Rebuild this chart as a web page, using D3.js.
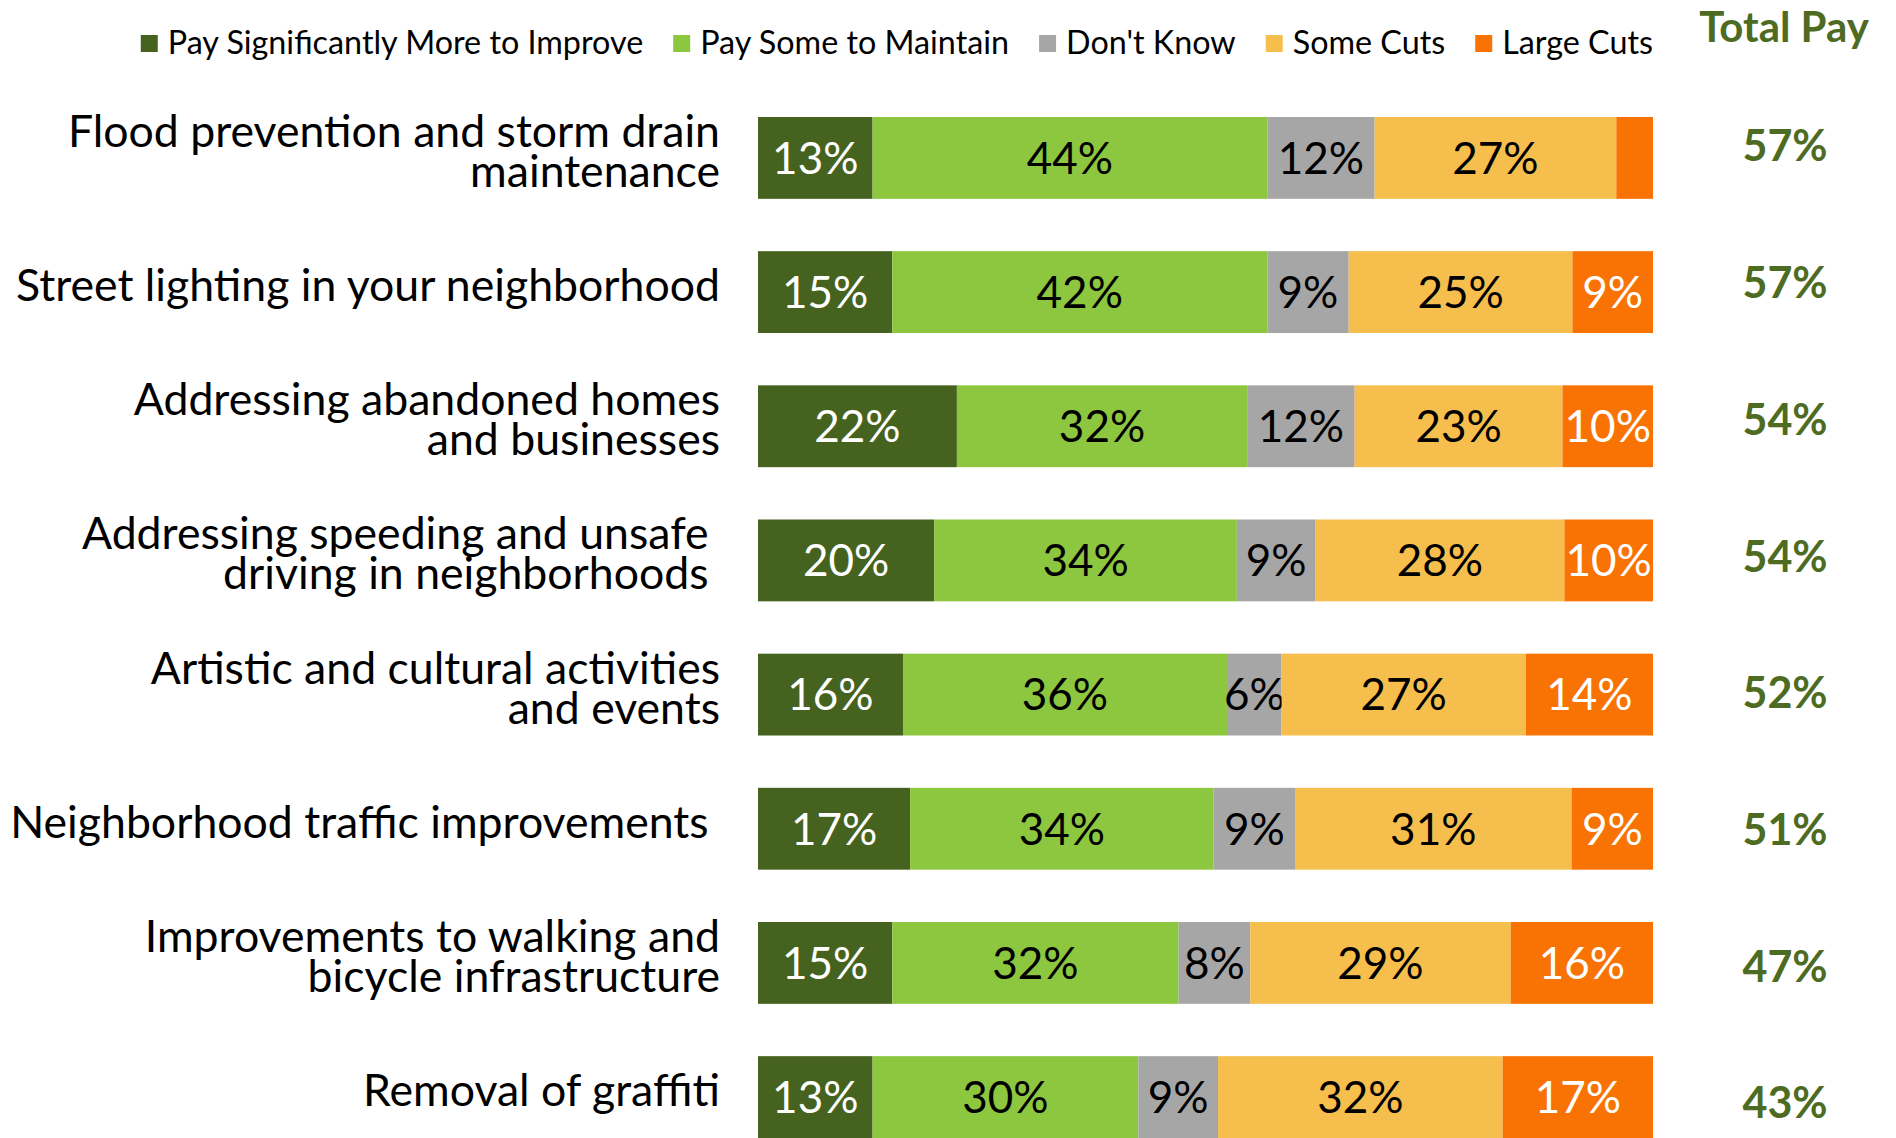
<!DOCTYPE html>
<html lang="en">
<head>
    <meta charset="UTF-8">
    <title>Willingness to Pay</title>
    <style>
        html, body {
            margin: 0;
            padding: 0;
            background-color: #ffffff;
            font-family: 'Lato', 'Open Sans', sans-serif;
        }
        svg text { white-space: pre; }
    </style>
</head>
<body>
    <div id="chart"></div>
    <script src="https://d3js.org/d3.v7.min.js"></script>
    <script>
        const width = 1896;
        const height = 1138;

        // DATA
        const categories = [
            "Flood prevention and storm drain\nmaintenance",
            "Street lighting in your neighborhood",
            "Addressing abandoned homes\nand businesses",
            "Addressing speeding and unsafe \ndriving in neighborhoods ",
            "Artistic and cultural activities\nand events",
            "Neighborhood traffic improvements ",
            "Improvements to walking and\nbicycle infrastructure",
            "Removal of graffiti"
        ];
        const seriesNames = ["Pay Significantly More to Improve", "Pay Some to Maintain", "Don't Know", "Some Cuts", "Large Cuts"];
        const payMore     = [12.8, 15.0, 22.2, 19.7, 16.2, 17.0, 15.0, 12.8];
        const payMaintain = [44.1, 41.9, 32.4, 33.8, 36.2, 33.9, 32.0, 29.7];
        const dontKnow    = [12.0,  9.1, 12.0,  8.8,  6.1,  9.1,  8.0,  8.9];
        const someCuts    = [27.0, 25.0, 23.2, 27.8, 27.3, 30.9, 29.1, 31.8];
        const largeCuts   = [ 4.1,  9.0, 10.1,  9.9, 14.2,  9.1, 15.9, 16.8];
        const totalPay    = [57, 57, 54, 54, 52, 51, 47, 43];

        const colours = ["#46621F", "#8DC63F", "#A6A6A6", "#F6BE4D", "#F97304"];
        const textColours = ["#ffffff", "#000000", "#000000", "#000000", "#ffffff"];
        const titleColour = "#4E6B22";

        const series = [payMore, payMaintain, dontKnow, someCuts, largeCuts];
        const rows = categories.map((c, i) => {
            const row = {category: c};
            seriesNames.forEach((s, j) => row[s] = series[j][i]);
            return row;
        });

        const stacked = d3.stack()
            .keys(seriesNames)
            .offset(d3.stackOffsetExpand)(rows);

        const x = d3.scaleLinear().domain([0, 1]).range([758, 1653]);
        const y = d3.scaleBand()
            .domain(categories)
            .range([117, 1138])
            .paddingInner(0.39)
            .paddingOuter(0);
        const yTotal = d3.scalePoint().domain(categories).range([146, 1103]);

        const svg = d3.select("#chart")
            .append("svg")
            .attr("width", width)
            .attr("height", height);

        // BARS
        const layer = svg.selectAll("g.layer")
            .data(stacked)
            .enter()
            .append("g")
            .attr("class", "layer")
            .attr("fill", (d, i) => colours[i]);

        layer.selectAll("rect")
            .data(d => d)
            .enter()
            .append("rect")
            .attr("x", d => x(d[0]))
            .attr("y", d => y(d.data.category))
            .attr("width", d => x(d[1]) - x(d[0]))
            .attr("height", y.bandwidth());

        // VALUE LABELS IN BARS
        layer.selectAll("text")
            .data((d, i) => d.map((v, k) => ({v: v, raw: series[i][k], s: i})))
            .enter()
            .filter(d => d.raw >= 5)
            .append("text")
            .attr("x", d => (x(d.v[0]) + x(d.v[1])) / 2)
            .attr("y", d => y(d.v.data.category) + y.bandwidth() / 2)
            .attr("dy", "0.36em")
            .attr("text-anchor", "middle")
            .style("font-size", "44px")
            .style("fill", d => textColours[d.s])
            .text(d => Math.round(d.raw) + "%");

        // CATEGORY LABELS
        const labels = svg.selectAll("text.cat")
            .data(categories)
            .enter()
            .append("text")
            .attr("class", "cat")
            .attr("text-anchor", "end")
            .style("font-size", "44.6px")
            .style("fill", "#000000");

        labels.selectAll("tspan")
            .data(d => {
                const lines = d.split("\n");
                const mid = y(d) + y.bandwidth() / 2 - 7;
                return lines.map((t, i) => ({t: t, y: mid + (i - (lines.length - 1) / 2) * 40}));
            })
            .enter()
            .append("tspan")
            .attr("x", 720)
            .attr("y", d => d.y)
            .attr("dy", "0.36em")
            .text(d => d.t);

        // TOTAL PAY
        svg.append("text")
            .attr("x", 1784)
            .attr("y", 42)
            .attr("text-anchor", "middle")
            .style("font-size", "42px")
            .style("font-weight", "bold")
            .style("fill", titleColour)
            .text("Total Pay");

        svg.selectAll("text.total")
            .data(totalPay)
            .enter()
            .append("text")
            .attr("class", "total")
            .attr("x", 1785)
            .attr("y", (d, i) => yTotal(categories[i]))
            .attr("dy", "0.36em")
            .attr("text-anchor", "middle")
            .style("font-size", "43px")
            .style("font-weight", "bold")
            .style("fill", titleColour)
            .text(d => d + "%");

        // LEGEND
        const legend = svg.append("g").attr("class", "legend");
        const items = legend.selectAll("g")
            .data(seriesNames)
            .enter()
            .append("g");

        items.append("rect")
            .attr("width", 17)
            .attr("height", 17)
            .attr("y", 35)
            .style("fill", (d, i) => colours[i]);

        items.append("text")
            .attr("x", 27)
            .attr("y", 54)
            .style("font-size", "32.3px")
            .style("fill", "#000000")
            .text(d => d);

        let pos = 0;
        const offsets = [];
        items.each(function () {
            offsets.push(pos);
            pos += 27 + this.querySelector("text").getComputedTextLength() + 30;
        });
        const start = 1653 - (pos - 30);
        items.attr("transform", (d, i) => `translate(${start + offsets[i]},0)`);
    </script>
</body>
</html>
